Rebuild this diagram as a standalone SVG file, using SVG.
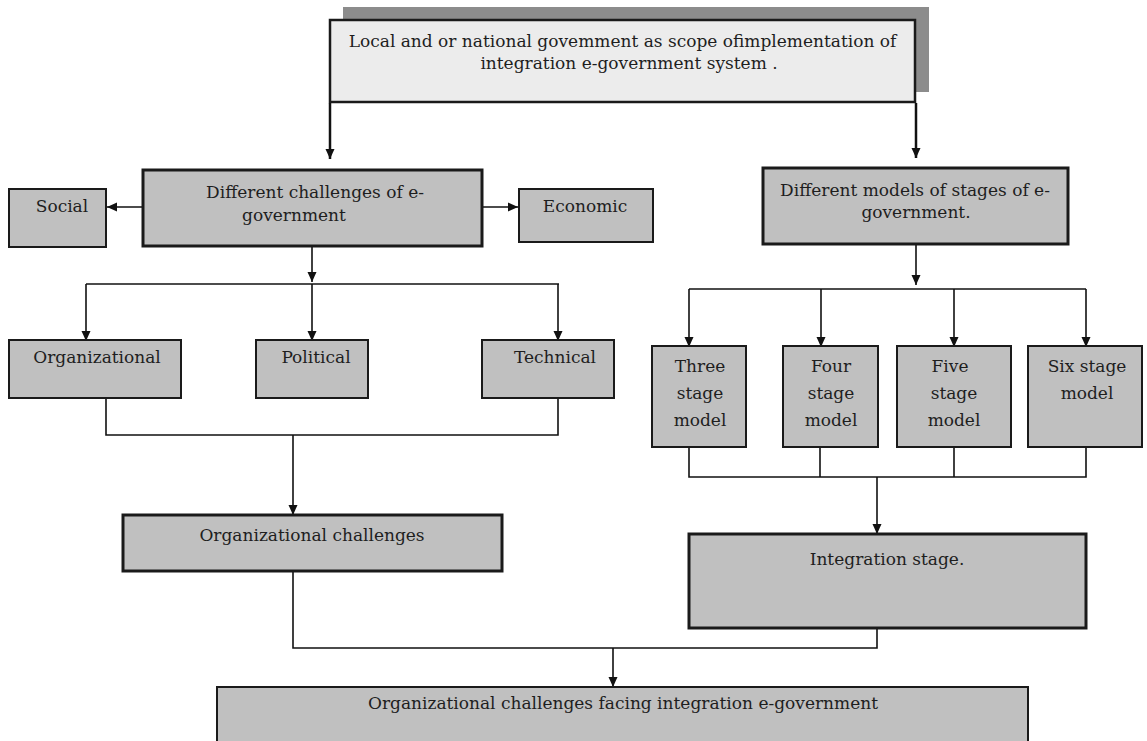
<svg xmlns="http://www.w3.org/2000/svg" width="1147" height="741" viewBox="0 0 1147 741">
<defs>
<marker id="ah" markerUnits="userSpaceOnUse" markerWidth="10" markerHeight="11" refX="10" refY="5.5" orient="auto">
<path d="M0,1 L10,5.5 L0,10 z" fill="#111"/>
</marker>
<style>
.box{fill:#c0c0c0;stroke:#1a1a1a;stroke-width:2}
.thick{fill:#c0c0c0;stroke:#1a1a1a;stroke-width:3}
.top{fill:#ececec;stroke:#1a1a1a;stroke-width:2.5}
.shadow{fill:#8c8c8c}
.t{font-family:"DejaVu Serif","Liberation Serif",serif;font-size:17px;fill:#1e1e1e;text-anchor:middle}
.c{fill:none;stroke:#111;stroke-width:1.6}
.ca{fill:none;stroke:#111;stroke-width:1.6;marker-end:url(#ah)}
.cb{fill:none;stroke:#111;stroke-width:2.5;marker-end:url(#ah)}
</style>
</defs>
<rect width="1147" height="741" fill="#fff"/>

<g id="connectors">
<line class="cb" x1="330" y1="103" x2="330" y2="159"/>
<line class="cb" x1="916" y1="103" x2="916" y2="158"/>
<line class="ca" x1="143" y1="207" x2="107" y2="207"/>
<line class="ca" x1="482" y1="207" x2="518" y2="207"/>
<line class="ca" x1="312" y1="246" x2="312" y2="282"/>
<polyline class="c" points="86,284 559,284"/>
<line class="ca" x1="86" y1="284" x2="86" y2="341"/>
<line class="ca" x1="312" y1="284" x2="312" y2="341"/>
<line class="ca" x1="558" y1="284" x2="558" y2="341"/>
<polyline class="c" points="106,398 106,435 558,435 558,398"/>
<line class="ca" x1="293" y1="435" x2="293" y2="515"/>
<line class="ca" x1="916" y1="244" x2="916" y2="285"/>
<polyline class="c" points="689,289 1086,289"/>
<line class="ca" x1="689" y1="289" x2="689" y2="347"/>
<line class="ca" x1="821" y1="289" x2="821" y2="347"/>
<line class="ca" x1="954" y1="289" x2="954" y2="347"/>
<line class="ca" x1="1086" y1="289" x2="1086" y2="347"/>
<polyline class="c" points="689,447 689,477 1086,477 1086,447"/>
<line class="c" x1="820" y1="447" x2="820" y2="477"/>
<line class="c" x1="954" y1="447" x2="954" y2="477"/>
<line class="ca" x1="877" y1="477" x2="877" y2="534"/>
<polyline class="c" points="293,571 293,648 877,648 877,628"/>
<line class="ca" x1="613" y1="648" x2="613" y2="687"/>
</g>

<g id="scope">
<rect class="shadow" x="343" y="7" width="586" height="85"/>
<rect class="top" x="330" y="20" width="585" height="82"/>
<text class="t" x="622.5" y="47">Local and or national govemment as scope ofimplementation of</text>
<text class="t" x="629" y="69">integration e-government system .</text>
</g>

<g id="challenges">
<rect class="thick" x="143" y="170" width="339" height="76"/>
<text class="t" x="315" y="198">Different challenges of e-</text>
<text class="t" x="294" y="221">government</text>
</g>

<g id="social">
<rect class="box" x="9" y="189" width="97" height="58"/>
<text class="t" x="62" y="212">Social</text>
</g>

<g id="economic">
<rect class="box" x="519" y="189" width="134" height="53"/>
<text class="t" x="585" y="212">Economic</text>
</g>

<g id="models">
<rect class="thick" x="763" y="168" width="305" height="76"/>
<text class="t" x="915" y="196">Different models of stages of e-</text>
<text class="t" x="916" y="218">government.</text>
</g>

<g id="organizational">
<rect class="box" x="9" y="340" width="172" height="58"/>
<text class="t" x="97" y="363">Organizational</text>
</g>

<g id="political">
<rect class="box" x="256" y="340" width="112" height="58"/>
<text class="t" x="316" y="363">Political</text>
</g>

<g id="technical">
<rect class="box" x="482" y="340" width="132" height="58"/>
<text class="t" x="555" y="363">Technical</text>
</g>

<g id="three">
<rect class="box" x="652" y="346" width="94" height="101"/>
<text class="t" x="700" y="372">Three</text>
<text class="t" x="700" y="399">stage</text>
<text class="t" x="700" y="426">model</text>
</g>

<g id="four">
<rect class="box" x="783" y="346" width="95" height="101"/>
<text class="t" x="831" y="372">Four</text>
<text class="t" x="831" y="399">stage</text>
<text class="t" x="831" y="426">model</text>
</g>

<g id="five">
<rect class="box" x="897" y="346" width="114" height="101"/>
<text class="t" x="950" y="372">Five</text>
<text class="t" x="954" y="399">stage</text>
<text class="t" x="954" y="426">model</text>
</g>

<g id="six">
<rect class="box" x="1028" y="346" width="114" height="101"/>
<text class="t" x="1087" y="372">Six stage</text>
<text class="t" x="1087" y="399">model</text>
</g>

<g id="org-challenges">
<rect class="thick" x="123" y="515" width="379" height="56"/>
<text class="t" x="312" y="541">Organizational challenges</text>
</g>

<g id="integration">
<rect class="thick" x="689" y="534" width="397" height="94"/>
<text class="t" x="887" y="565">Integration stage.</text>
</g>

<g id="final">
<rect class="box" x="217" y="687" width="811" height="80"/>
<text class="t" x="623" y="709">Organizational challenges facing integration e-government</text>
</g>
</svg>
